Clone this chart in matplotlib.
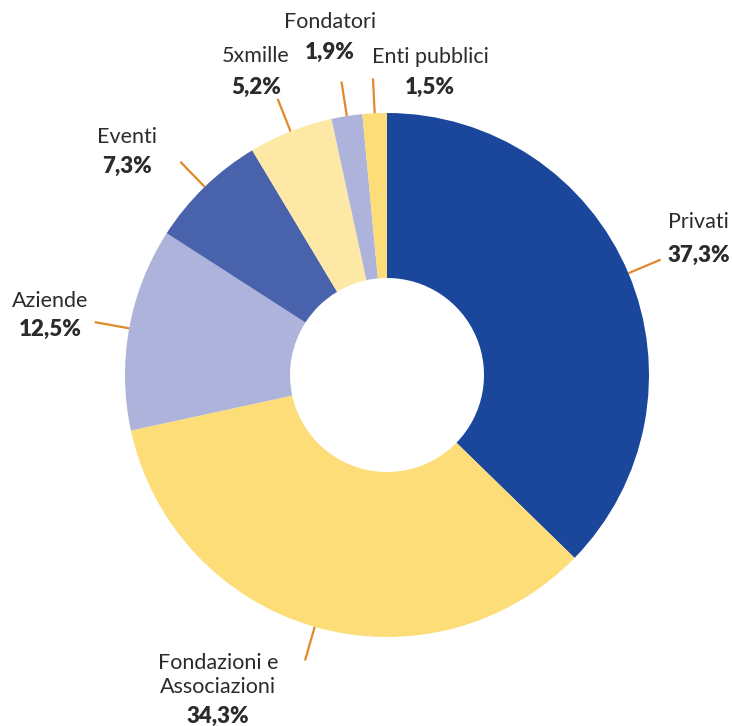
import numpy as np
import matplotlib.pyplot as plt

# data
categories = ['Privati', 'Fondazioni e\nAssociazioni', 'Aziende', 'Eventi',
              '5xmille', 'Fondatori', 'Enti pubblici']
shares = [37.3, 34.3, 12.5, 7.3, 5.2, 1.9, 1.5]
pct_labels = ['37,3%', '34,3%', '12,5%', '7,3%', '5,2%', '1,9%', '1,5%']

colors = ['#1a479c', '#fddd78', '#adb3da', '#4862ac', '#fde8a6', '#adb3da', '#fddd78']
leader = '#e08a2c'
txt = '#2b2b2b'

W, H = 732, 726
cx, cy, R = 387, H - 375, 262

# label anchors in pixels from top-left: x, name y, percentage y, alignment
label_pos = [(668, 222, 255, 'left'), (218, 675, 716, 'center'),
             (50, 301, 329, 'center'), (127, 137, 166, 'center'),
             (256, 56, 87, 'center'), (330, 22, 52, 'center'),
             (430, 57, 87, 'center')]

fig = plt.figure(figsize=(W / 100, H / 100), dpi=100)
ax = fig.add_axes([0, 0, 1, 1])

wedges, _ = ax.pie(shares, colors=colors, startangle=90, counterclock=False,
                   radius=R, center=(cx, cy),
                   wedgeprops=dict(width=R - 97, linewidth=0))
ax.set_xlim(0, W)
ax.set_ylim(0, H)
ax.set_aspect('equal')
ax.axis('off')

for w, name, pct, (lx, ny, py, ha) in zip(wedges, categories, pct_labels, label_pos):
    ang = np.deg2rad((w.theta1 + w.theta2) / 2)
    x0, y0 = cx + R * np.cos(ang), cy + R * np.sin(ang)
    x1, y1 = cx + 297 * np.cos(ang), cy + 297 * np.sin(ang)
    ax.plot([x0, x1], [y0, y1], color=leader, lw=1.6, solid_capstyle='butt')
    ax.text(lx, H - ny, name, ha=ha, va='center', fontsize=15.5,
            family='Lato', color=txt, linespacing=1.2)
    ax.text(lx, H - py, pct, ha=ha, va='center', fontsize=16,
            family='Lato', fontweight='heavy', color=txt)

fig.savefig('out.png', dpi=100)
